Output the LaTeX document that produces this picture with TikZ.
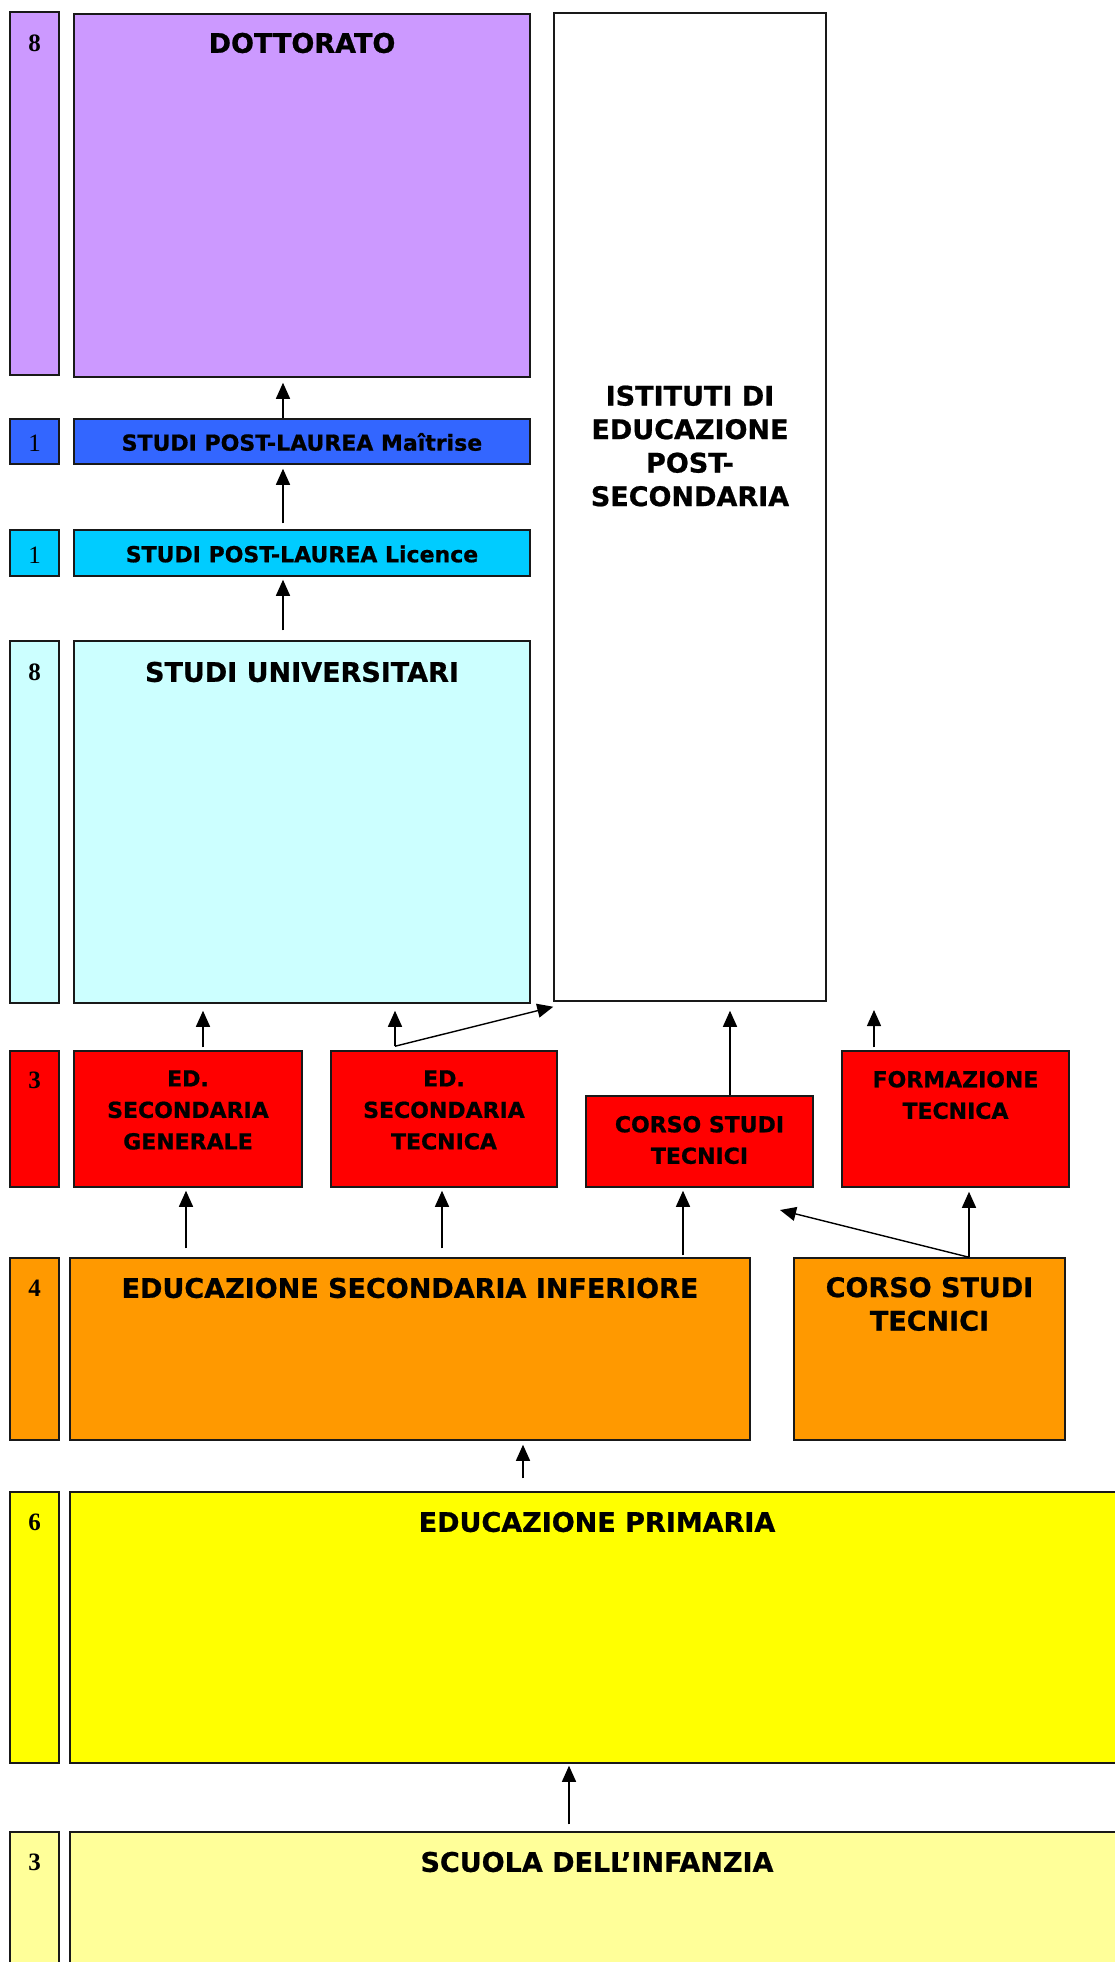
\documentclass[tikz,border=0pt]{standalone}
\usepackage{fontspec}
\newfontfamily\lblfont{DejaVu Sans}[BoldFeatures={FakeBold=0.8}]
\newfontfamily\numfont{Liberation Serif}
\usetikzlibrary{arrows.meta}
\definecolor{dottcol}{HTML}{CC99FF}
\definecolor{maitcol}{HTML}{3366FF}
\definecolor{liccol}{HTML}{00CCFF}
\definecolor{univcol}{HTML}{CCFFFF}
\definecolor{redcol}{HTML}{FF0000}
\definecolor{orcol}{HTML}{FF9900}
\definecolor{yelcol}{HTML}{FFFF00}
\definecolor{ltyelcol}{HTML}{FFFF99}
\tikzset{
  box/.style={draw=black!90,line width=1.5pt,rectangle,inner sep=0pt},
  big/.style={font=\lblfont\bfseries\fontsize{27}{33.5}\selectfont,align=center},
  small/.style={font=\lblfont\bfseries\fontsize{22}{31.5}\selectfont,align=center},
  num/.style={font=\numfont\bfseries\fontsize{25}{28}\selectfont},
  arr/.style={-{Triangle[length=16pt,width=14pt]},line width=1.4pt},
}
\begin{document}
\begin{tikzpicture}[x=1pt,y=-1pt]
  \useasboundingbox (0,0) rectangle (1115,1962);
  \clip (0,0) rectangle (1115,1962);
  % Doctorate
  \node[box,fill=dottcol,minimum width=49pt,minimum height=363pt] (n8a) at (34.5,193.5) {};
  \node[box,fill=dottcol,minimum width=456pt,minimum height=363pt] (dott) at (302,195.5) {};
  \node[num] (t8a) at (34.5,43) {8};
  \node[big] (tdott) at (302,43) {DOTTORATO};
  % Post-laurea
  \node[box,fill=maitcol,minimum width=49pt,minimum height=45pt] (n1a) at (34.5,441.5) {};
  \node[box,fill=maitcol,minimum width=456pt,minimum height=45pt] (mait) at (302,441.5) {};
  \node[num,font=\numfont\fontsize{25}{28}\selectfont] (t1a) at (34.5,443) {1};
  \node[small] (tmait) at (302,442) {STUDI POST-LAUREA Maîtrise};
  \node[box,fill=liccol,minimum width=49pt,minimum height=46pt] (n1b) at (34.5,553) {};
  \node[box,fill=liccol,minimum width=456pt,minimum height=46pt] (lic) at (302,553) {};
  \node[num,font=\numfont\fontsize{25}{28}\selectfont] (t1b) at (34.5,555) {1};
  \node[small] (tlic) at (302,554) {STUDI POST-LAUREA Licence};
  % University
  \node[box,fill=univcol,minimum width=49pt,minimum height=362pt] (n8b) at (34.5,822) {};
  \node[box,fill=univcol,minimum width=456pt,minimum height=362pt] (univ) at (302,822) {};
  \node[num] (t8b) at (34.5,672) {8};
  \node[big] (tuniv) at (302,672) {STUDI UNIVERSITARI};
  % Post-secondary
  \node[box,fill=white,minimum width=272pt,minimum height=988pt] (ist) at (690,507) {};
  \node[big] (tist) at (690,446) {ISTITUTI DI\\EDUCAZIONE\\POST-\\SECONDARIA};
  % Upper secondary
  \node[box,fill=redcol,minimum width=49pt,minimum height=136pt] (n3a) at (34.5,1119) {};
  \node[box,fill=redcol,minimum width=228pt,minimum height=136pt] (gen) at (188,1119) {};
  \node[box,fill=redcol,minimum width=226pt,minimum height=136pt] (tec) at (444,1119) {};
  \node[box,fill=redcol,minimum width=227pt,minimum height=91pt] (corso) at (699.5,1141.5) {};
  \node[box,fill=redcol,minimum width=227pt,minimum height=136pt] (form) at (955.5,1119) {};
  \node[num] (t3a) at (34.5,1080) {3};
  \node[small] (tgen) at (188,1110) {ED.\\SECONDARIA\\GENERALE};
  \node[small] (ttec) at (444,1110) {ED.\\SECONDARIA\\TECNICA};
  \node[small] (tcorso) at (699.5,1140) {CORSO STUDI\\TECNICI};
  \node[small] (tform) at (955.5,1095) {FORMAZIONE\\TECNICA};
  % Lower secondary
  \node[box,fill=orcol,minimum width=49pt,minimum height=182pt] (n4) at (34.5,1349) {};
  \node[box,fill=orcol,minimum width=680pt,minimum height=182pt] (edu) at (410,1349) {};
  \node[box,fill=orcol,minimum width=271pt,minimum height=182pt] (orcorso) at (929.5,1349) {};
  \node[num] (t4) at (34.5,1288) {4};
  \node[big] (tedu) at (410,1288) {EDUCAZIONE SECONDARIA INFERIORE};
  \node[big] (torcorso) at (929.5,1304) {CORSO STUDI\\TECNICI};
  % Primary
  \node[box,fill=yelcol,minimum width=49pt,minimum height=271pt] (n6) at (34.5,1627.5) {};
  \node[box,fill=yelcol,minimum width=1065pt,minimum height=271pt] (prim) at (602.5,1627.5) {};
  \node[num] (t6) at (34.5,1522) {6};
  \node[big] (tprim) at (597,1522) {EDUCAZIONE PRIMARIA};
  % Pre-school
  \node[box,fill=ltyelcol,minimum width=49pt,minimum height=168pt] (n3b) at (34.5,1916) {};
  \node[box,fill=ltyelcol,minimum width=1065pt,minimum height=168pt] (inf) at (602.5,1916) {};
  \node[num] (t3b) at (34.5,1862) {3};
  \node[big] (tinf) at (597,1862) {SCUOLA DELL’INFANZIA};
  % free arrow ends
  \coordinate (formtop) at (874,1010);
  \coordinate (cross) at (780,1210);
  % arrows
  \draw[arr] ([xshift=-19pt]mait.north) -- ([xshift=-19pt,yshift=-5pt]dott.south);
  \draw[arr] ([xshift=-19pt,yshift=6pt]lic.north) -- ([xshift=-19pt,yshift=-4pt]mait.south);
  \draw[arr] ([xshift=-19pt,yshift=10pt]univ.north) -- ([xshift=-19pt,yshift=-3pt]lic.south);
  \draw[arr] ([xshift=15pt,yshift=3pt]gen.north) -- ([xshift=-99pt,yshift=-7pt]univ.south);
  \draw[arr] ([xshift=-49pt,yshift=4pt]tec.north) coordinate (tk) -- ([xshift=93pt,yshift=-7pt]univ.south);
  \draw[arr] (tk) -- ([yshift=-5pt]ist.south west);
  \draw[arr] ([xshift=30.5pt]corso.north) -- ([xshift=40pt,yshift=-9pt]ist.south);
  \draw[arr] ([xshift=-81.5pt,yshift=3pt]form.north) -- (formtop);
  \draw[arr] ([xshift=-224pt,yshift=9pt]edu.north) -- ([xshift=-2pt,yshift=-3pt]gen.south);
  \draw[arr] ([xshift=32pt,yshift=9pt]edu.north) -- ([xshift=-2pt,yshift=-3pt]tec.south);
  \draw[arr] ([xshift=273pt,yshift=2pt]edu.north) -- ([xshift=-16.5pt,yshift=-3pt]corso.south);
  \draw[arr] ([xshift=39.5pt]orcorso.north) -- ([xshift=13.5pt,yshift=-4pt]form.south);
  \draw[arr] ([xshift=39.5pt]orcorso.north) -- (cross);
  \draw[arr] ([xshift=113pt,yshift=13pt]prim.north -| edu.south) -- ([xshift=113pt,yshift=-4pt]edu.south);
  \draw[arr] ([xshift=-33.5pt,yshift=7pt]inf.north) -- ([xshift=-33.5pt,yshift=-2pt]prim.south);
\end{tikzpicture}
\end{document}
